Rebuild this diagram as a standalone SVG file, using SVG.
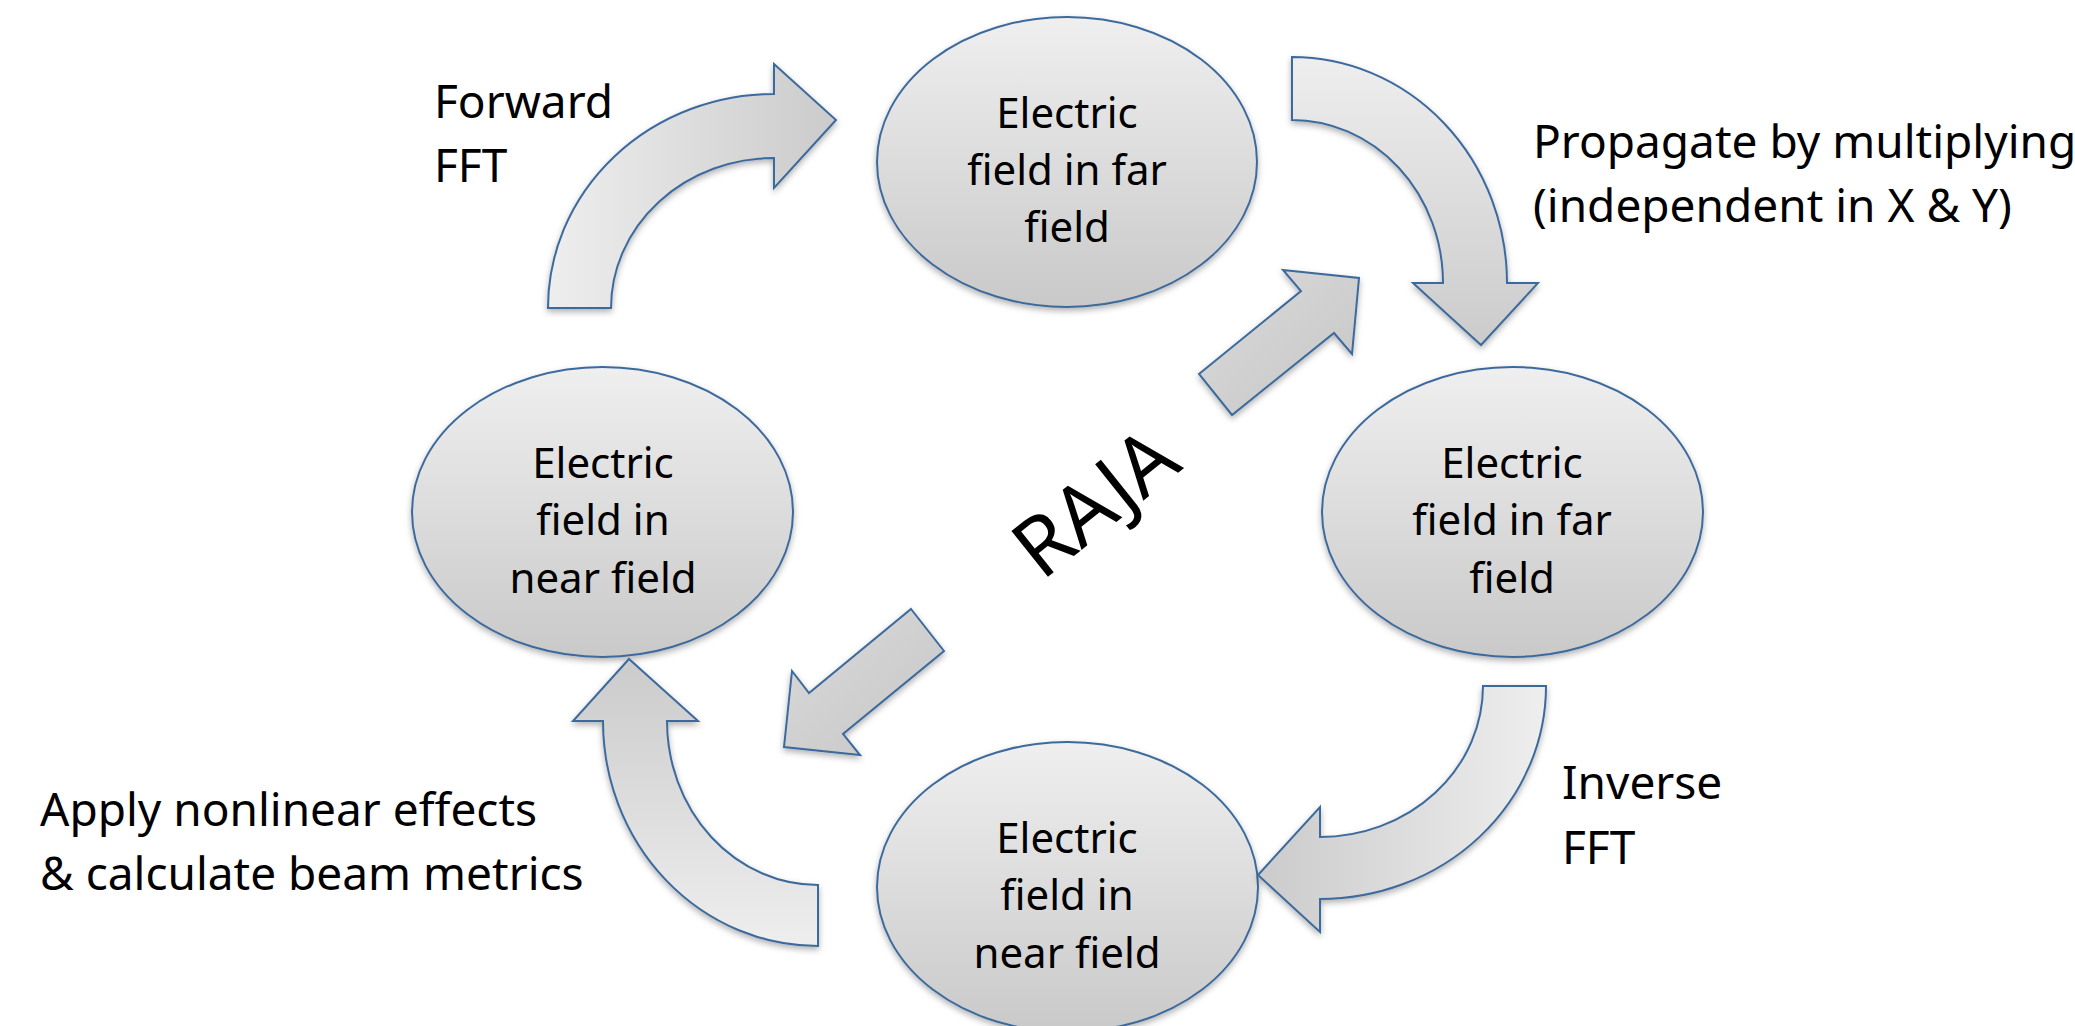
<svg xmlns="http://www.w3.org/2000/svg" width="2075" height="1026" viewBox="0 0 2075 1026">
<defs>
  <linearGradient id="gNode" x1="0" y1="0" x2="0" y2="1">
    <stop offset="0" stop-color="#efefef"/>
    <stop offset="1" stop-color="#c9c9c9"/>
  </linearGradient>
  <linearGradient id="gLR" x1="0" y1="0" x2="1" y2="0">
    <stop offset="0" stop-color="#eeeeee"/>
    <stop offset="1" stop-color="#cbcbcb"/>
  </linearGradient>
  <linearGradient id="gTB" x1="0" y1="0" x2="0" y2="1">
    <stop offset="0" stop-color="#eeeeee"/>
    <stop offset="1" stop-color="#cbcbcb"/>
  </linearGradient>
  <linearGradient id="gRL" x1="1" y1="0" x2="0" y2="0">
    <stop offset="0" stop-color="#eeeeee"/>
    <stop offset="1" stop-color="#cbcbcb"/>
  </linearGradient>
  <linearGradient id="gBT" x1="0" y1="1" x2="0" y2="0">
    <stop offset="0" stop-color="#eeeeee"/>
    <stop offset="1" stop-color="#cbcbcb"/>
  </linearGradient>
  <linearGradient id="gDiag" x1="0" y1="0" x2="1" y2="1">
    <stop offset="0" stop-color="#dadada"/>
    <stop offset="1" stop-color="#c6c6c6"/>
  </linearGradient>
  <filter id="sh" x="-10%" y="-10%" width="120%" height="125%">
    <feDropShadow dx="0" dy="3" stdDeviation="3" flood-color="#000" flood-opacity="0.3"/>
  </filter>
  <style>
    .node { fill: url(#gNode); stroke: #3e6a9c; stroke-width: 2; filter: url(#sh); }
    .arrow { stroke: #3e6a9c; stroke-width: 2; stroke-linejoin: miter; filter: url(#sh); }
    .nt { font-family: "Noto Sans", "Open Sans", sans-serif; font-size: 42px; fill: #000; text-anchor: middle; }
    .lbl { font-family: "Noto Sans", "Open Sans", sans-serif; font-size: 46px; fill: #000; }
    .raja { font-family: "Noto Sans", "Open Sans", sans-serif; font-size: 82px; fill: #000; text-anchor: middle; }
  </style>
</defs>
<rect width="2075" height="1026" fill="#ffffff"/>

<g id="node-top">
  <ellipse class="node" cx="1067" cy="162" rx="190" ry="145"/>
  <text class="nt" x="1067" y="128">Electric</text>
  <text class="nt" x="1067" y="185">field in far</text>
  <text class="nt" x="1067" y="242">field</text>
</g>
<g id="node-left">
  <ellipse class="node" cx="602.5" cy="512" rx="190.5" ry="145"/>
  <text class="nt" x="603" y="478">Electric</text>
  <text class="nt" x="603" y="535">field in</text>
  <text class="nt" x="603" y="593">near field</text>
</g>
<g id="node-right">
  <ellipse class="node" cx="1512.5" cy="512" rx="190.5" ry="145"/>
  <text class="nt" x="1512" y="478">Electric</text>
  <text class="nt" x="1512" y="535">field in far</text>
  <text class="nt" x="1512" y="593">field</text>
</g>
<g id="node-bottom">
  <ellipse class="node" cx="1067.5" cy="887" rx="190.5" ry="145"/>
  <text class="nt" x="1067" y="853">Electric</text>
  <text class="nt" x="1067" y="910">field in</text>
  <text class="nt" x="1067" y="968">near field</text>
</g>

<g id="connectors">
  <path class="arrow" fill="url(#gLR)" d="M548,308 A226,214 0 0 1 774,94 L774,64 L836,120 L774,188 L774,158 A163,150 0 0 0 611,308 Z"/>
  <path class="arrow" fill="url(#gTB)" d="M1292,57 A215,226 0 0 1 1507,283 L1538,283 L1481,345 L1413,283 L1443,283 A151,163 0 0 0 1292,120 Z"/>
  <path class="arrow" fill="url(#gRL)" d="M1546,686 A226,213 0 0 1 1320,899 L1320,932 L1258,875 L1320,807 L1320,837 A163,151 0 0 0 1483,686 Z"/>
  <path class="arrow" fill="url(#gBT)" d="M818,946 A215,225 0 0 1 603,721 L573,721 L629,659 L698,721 L667,721 A151,164 0 0 0 818,885 Z"/>
  <polygon class="arrow" fill="url(#gDiag)" points="1199,374 1301,291 1283,270 1359,278 1352,354 1334,333 1232,415"/>
  <polygon class="arrow" fill="url(#gDiag)" points="911,609 944,651 843,734 860,755 784,747 792,671 809,693"/>
</g>

<g id="labels">
  <text class="lbl" x="434" y="118">Forward</text>
  <text class="lbl" x="434" y="182">FFT</text>
  <text class="lbl" x="1533" y="158">Propagate by multiplying</text>
  <text class="lbl" x="1533" y="222">(independent in X &amp; Y)</text>
  <text class="lbl" x="1562" y="799">Inverse</text>
  <text class="lbl" x="1562" y="864">FFT</text>
  <text class="lbl" x="40" y="826">Apply nonlinear effects</text>
  <text class="lbl" x="40" y="890">&amp; calculate beam metrics</text>
  <text class="raja" x="1113" y="525" transform="rotate(-38.6 1113 525)">RAJA</text>
</g>
</svg>
